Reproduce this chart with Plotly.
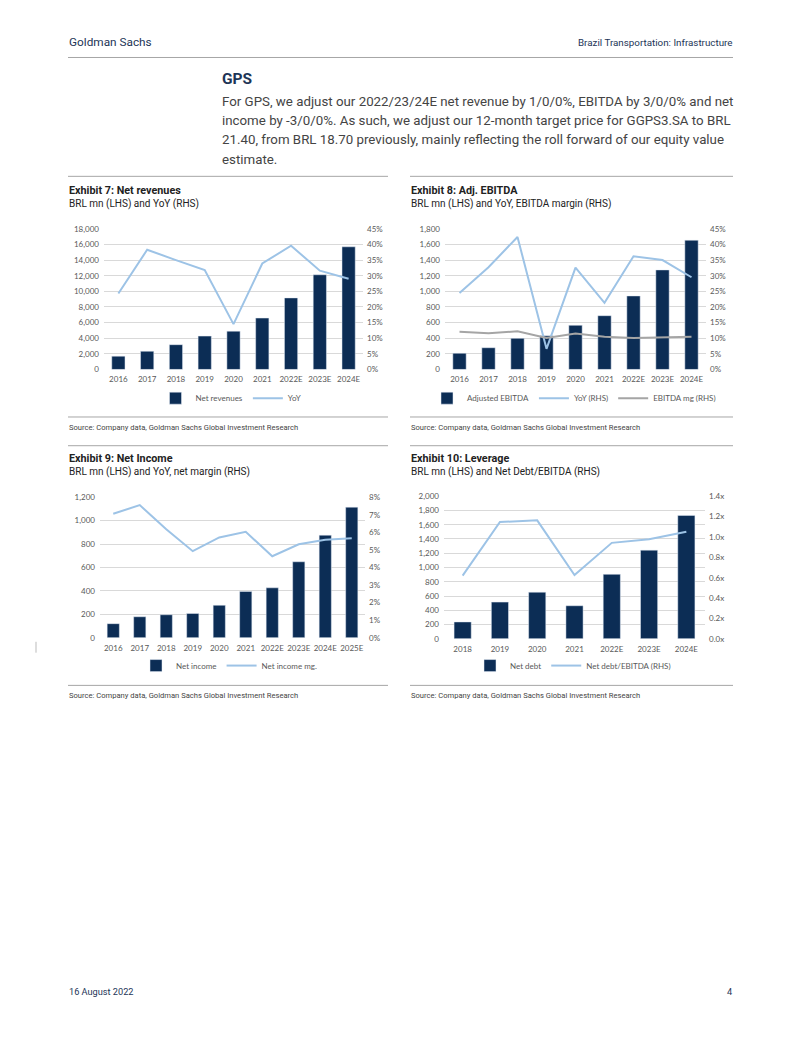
import plotly.graph_objects as go

W, H = 802, 1037
def X(px): return px / W
def Y(py): return 1 - py / H

# ---------------- data ----------------
cats7 = ['2016', '2017', '2018', '2019', '2020', '2021', '2022E', '2023E', '2024E']
net_rev = [1700, 2330, 3170, 4270, 4900, 6580, 9160, 12120, 15700]
net_rev_yoy = [0.243, 0.383, 0.350, 0.318, 0.145, 0.339, 0.396, 0.316, 0.290]

cats8 = ['2016', '2017', '2018', '2019', '2020', '2021', '2022E', '2023E', '2024E']
adj_ebitda = [207, 278, 398, 430, 565, 688, 941, 1274, 1654]
ebitda_yoy = [0.245, 0.327, 0.424, 0.066, 0.326, 0.213, 0.362, 0.350, 0.295]
ebitda_mg = [0.121, 0.116, 0.122, 0.101, 0.115, 0.105, 0.101, 0.103, 0.105]

cats9 = ['2016', '2017', '2018', '2019', '2020', '2021', '2022E', '2023E', '2024E', '2025E']
net_income = [121, 180, 197, 208, 278, 396, 427, 649, 876, 1115]
net_income_mg = [0.0706, 0.0755, 0.0618, 0.0493, 0.0571, 0.0603, 0.0464, 0.0532, 0.0558, 0.0566]

cats10 = ['2018', '2019', '2020', '2021', '2022E', '2023E', '2024E']
net_debt = [237, 515, 654, 464, 905, 1244, 1731]
nd_ebitda = [0.620, 1.147, 1.163, 0.627, 0.942, 0.977, 1.052]

# ---------------- styles ----------------
NAVY = '#0c2d55'
LBLUE = '#9dc3e6'
GREY = '#a5a5a5'
TICK = dict(family='Lato, Open Sans, sans-serif', size=8, color='#595959')
NARROW = 'Roboto, Liberation Sans, sans-serif'
BODY = 'Roboto, Liberation Sans, sans-serif'

fig = go.Figure()

# Exhibit 7
fig.add_trace(go.Bar(x=cats7, y=net_rev, name='Net revenues', marker_color=NAVY,
                     xaxis='x', yaxis='y', legend='legend'))
fig.add_trace(go.Scatter(x=cats7, y=net_rev_yoy, name='YoY', mode='lines',
                         line=dict(color=LBLUE, width=2), xaxis='x', yaxis='y2', legend='legend'))
# Exhibit 8
fig.add_trace(go.Bar(x=cats8, y=adj_ebitda, name='Adjusted EBITDA', marker_color=NAVY,
                     xaxis='x2', yaxis='y3', legend='legend2'))
fig.add_trace(go.Scatter(x=cats8, y=ebitda_yoy, name='YoY (RHS)', mode='lines',
                         line=dict(color=LBLUE, width=2), xaxis='x2', yaxis='y4', legend='legend2'))
fig.add_trace(go.Scatter(x=cats8, y=ebitda_mg, name='EBITDA mg (RHS)', mode='lines',
                         line=dict(color=GREY, width=2), xaxis='x2', yaxis='y4', legend='legend2'))
# Exhibit 9
fig.add_trace(go.Bar(x=cats9, y=net_income, name='Net income', marker_color=NAVY,
                     xaxis='x3', yaxis='y5', legend='legend3'))
fig.add_trace(go.Scatter(x=cats9, y=net_income_mg, name='Net income mg.', mode='lines',
                         line=dict(color=LBLUE, width=2), xaxis='x3', yaxis='y6', legend='legend3'))
# Exhibit 10
fig.add_trace(go.Bar(x=cats10, y=net_debt, name='Net debt', marker_color=NAVY,
                     xaxis='x4', yaxis='y7', legend='legend4'))
fig.add_trace(go.Scatter(x=cats10, y=nd_ebitda, name='Net debt/EBITDA (RHS)', mode='lines',
                         line=dict(color=LBLUE, width=2), xaxis='x4', yaxis='y8', legend='legend4'))

def xax(x0, x1, anchor):
    return dict(domain=[X(x0), X(x1)], anchor=anchor, type='category', showgrid=False,
                showline=False, zeroline=False, ticks='', tickfont=TICK, fixedrange=True,
                ticklabelstandoff=4)

def yl(y0, y1, anchor, rng, dtick, fmt=',', suffix=''):
    return dict(domain=[Y(y0), Y(y1)], anchor=anchor, range=rng, dtick=dtick, tick0=0,
                tickformat=fmt, ticksuffix=suffix, showgrid=True, gridcolor='#d9d9d9',
                gridwidth=1, zeroline=False, showline=False, ticks='', tickfont=TICK,
                fixedrange=True, ticklabelstandoff=4)

def yr(over, anchor, rng, dtick, fmt, suffix=''):
    return dict(overlaying=over, anchor=anchor, side='right', range=rng, dtick=dtick, tick0=0,
                tickformat=fmt, ticksuffix=suffix, showgrid=False, zeroline=False,
                showline=False, ticks='', tickfont=TICK, fixedrange=True,
                ticklabelstandoff=3)

def leg(cx, cy):
    return dict(orientation='h', x=X(cx), xanchor='center', y=Y(cy), yanchor='middle',
                font=dict(family='Lato, Open Sans, sans-serif', size=8, color='#595959'),
                bgcolor='rgba(0,0,0,0)', itemwidth=30, tracegroupgap=0)

fig.update_layout(
    width=W, height=H, autosize=False,
    margin=dict(l=0, r=0, t=0, b=0, pad=0),
    paper_bgcolor='white', plot_bgcolor='white',
    bargap=0.54, showlegend=True,
    xaxis=xax(104, 363, 'y'),
    yaxis=yl(368, 226, 'x', [0, 18000], 2000),
    yaxis2=yr('y', 'x', [0, 0.45], 0.05, '.0%'),
    xaxis2=xax(445, 706, 'y3'),
    yaxis3=yl(368, 226, 'x2', [0, 1800], 200),
    yaxis4=yr('y3', 'x2', [0, 0.45], 0.05, '.0%'),
    xaxis3=xax(100, 365, 'y5'),
    yaxis5=yl(639, 497, 'x3', [0, 1200], 200),
    yaxis6=yr('y5', 'x3', [0, 0.08], 0.01, '.0%'),
    xaxis4=xax(444, 705, 'y7'),
    yaxis7=yl(640, 496, 'x4', [0, 2000], 200),
    yaxis8=yr('y7', 'x4', [0, 1.4], 0.2, '.1f', 'x'),
    legend=leg(231, 397),
    legend2=leg(574, 397),
    legend3=leg(229, 667),
    legend4=leg(573, 667),
)

# ---------------- page text ----------------
ann = []
def txt(s, x, y, size, color='#222222', family=NARROW, bold=False, xanchor='left'):
    f = dict(family=family, size=size, color=color)
    ann.append(dict(text=('<b>%s</b>' % s) if bold else s, x=X(x), y=Y(y), xref='paper',
                    yref='paper', xanchor=xanchor, yanchor='middle', showarrow=False, font=f))

txt('Goldman Sachs', 67, 37, 11.8, color='#1d3557')
txt('Brazil Transportation: Infrastructure', 734, 38, 9.8, color='#1d3557', xanchor='right')
txt('GPS', 220, 75, 15.5, color='#1d3557', bold=True)
para = ['For GPS, we adjust our 2022/23/24E net revenue by 1/0/0%, EBITDA by 3/0/0% and net',
        'income by -3/0/0%. As such, we adjust our 12-month target price for GGPS3.SA to BRL',
        '21.40, from BRL 18.70 previously, mainly reflecting the roll forward of our equity value',
        'estimate.']
for i, line in enumerate(para):
    txt(line, 220, 97 + i * 19.5, 13.3, color='#444444', family=BODY)

txt('Exhibit 7: Net revenues', 67, 187, 10.8, bold=True)
txt('BRL mn (LHS) and YoY (RHS)', 67, 201, 10)
txt('Exhibit 8: Adj. EBITDA', 409, 187, 10.8, bold=True)
txt('BRL mn (LHS) and YoY, EBITDA margin (RHS)', 409, 201, 10)
txt('Exhibit 9: Net Income', 67, 458, 10.8, bold=True)
txt('BRL mn (LHS) and YoY, net margin (RHS)', 67, 472, 10)
txt('Exhibit 10: Leverage', 409, 458, 10.8, bold=True)
txt('BRL mn (LHS) and Net Debt/EBITDA (RHS)', 409, 472, 10)

src = 'Source: Company data, Goldman Sachs Global Investment Research'
txt(src, 67, 427, 7.6, color='#444444')
txt(src, 409, 427, 7.6, color='#444444')
txt(src, 67, 697, 7.6, color='#444444')
txt(src, 409, 697, 7.6, color='#444444')

txt('16 August 2022', 67, 996, 9.2, color='#1d3557')
txt('4', 734, 996, 9.2, color='#1d3557', xanchor='right')

shapes = []
def hline(x0, x1, y, color='#a6a6a6', w=1):
    shapes.append(dict(type='line', xref='paper', yref='paper', x0=X(x0), x1=X(x1),
                       y0=Y(y), y1=Y(y), line=dict(color=color, width=w)))

hline(68, 733, 53)
for y in (173, 416, 445, 687):
    hline(68, 388, y)
    hline(410, 733, y)
shapes.append(dict(type='line', xref='paper', yref='paper', x0=X(36), x1=X(36),
                   y0=Y(643), y1=Y(654), line=dict(color='#bbbbbb', width=1)))

fig.update_layout(annotations=ann, shapes=shapes)

fig.write_html('out.html', config={'displayModeBar': False})
